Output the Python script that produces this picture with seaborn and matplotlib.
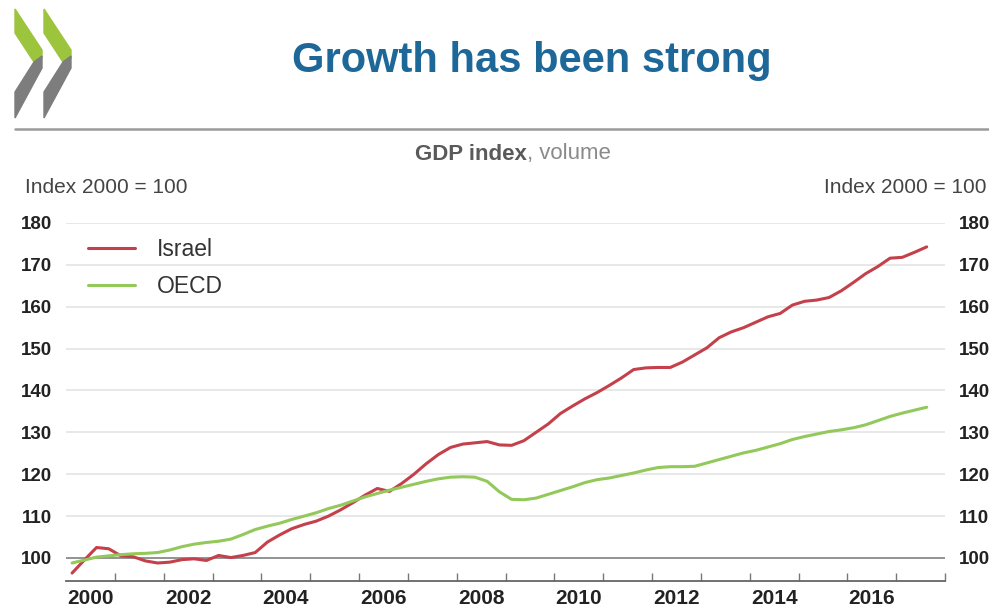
import numpy as np
import pandas as pd
import matplotlib
matplotlib.use("Agg")
import matplotlib.pyplot as plt
from matplotlib import font_manager
from matplotlib.patches import Polygon
import seaborn as sns

# ---------------- data ----------------
quarters = pd.period_range("2000Q1", "2017Q3", freq="Q")

israel = [96.4, 99.5, 102.5, 102.2, 100.5, 100.3, 99.3, 98.8, 99.0, 99.6,
          99.8, 99.4, 100.6, 100.1, 100.6, 101.3, 103.8, 105.5, 107.0, 108.0,
          108.8, 110.0, 111.5, 113.2, 115.0, 116.6, 115.9, 117.8, 120.0, 122.5,
          124.7, 126.4, 127.2, 127.5, 127.8, 127.0, 126.9, 128.0, 130.0, 132.0,
          134.5, 136.3, 138.0, 139.5, 141.2, 143.0, 145.0, 145.4, 145.5, 145.5,
          146.8, 148.5, 150.2, 152.6, 154.0, 155.0, 156.3, 157.6, 158.4, 160.4,
          161.3, 161.6, 162.2, 163.8, 165.8, 167.9, 169.6, 171.6, 171.8, 173.0,
          174.3]

oecd = [98.8, 99.5, 100.2, 100.5, 100.8, 101.0, 101.1, 101.3, 101.9, 102.7,
        103.3, 103.7, 104.0, 104.5, 105.6, 106.8, 107.6, 108.3, 109.2, 110.0,
        110.8, 111.8, 112.6, 113.6, 114.6, 115.4, 116.2, 116.9, 117.6, 118.3,
        118.9, 119.3, 119.4, 119.3, 118.3, 115.8, 114.0, 113.9, 114.3, 115.2,
        116.1, 117.0, 118.0, 118.7, 119.1, 119.7, 120.3, 121.0, 121.6, 121.8,
        121.8, 121.9, 122.7, 123.5, 124.3, 125.1, 125.7, 126.5, 127.3, 128.3,
        129.0, 129.6, 130.2, 130.6, 131.1, 131.8, 132.8, 133.8, 134.6, 135.3,
        136.0]

series_names = ["Israel", "OECD"]
y_ticks = [100, 110, 120, 130, 140, 150, 160, 170, 180]
x_labels = [2000, 2002, 2004, 2006, 2008, 2010, 2012, 2014, 2016]

# ---------------- style ----------------
sns.set_theme(style="white")
names = {f.name for f in font_manager.fontManager.ttflist}
narrow = "Liberation Sans Narrow" if "Liberation Sans Narrow" in names else "Liberation Sans"
plt.rcParams["font.family"] = [narrow, "DejaVu Sans"]

red = "#c4404a"
green = "#93c85a"
blue = "#1d6898"

xpos = quarters.year + (quarters.quarter - 0.5) / 4.0
df = pd.DataFrame({
    "x": np.concatenate([xpos, xpos]),
    "value": israel + oecd,
    "series": [series_names[0]] * len(israel) + [series_names[1]] * len(oecd),
})

fig = plt.figure(figsize=(9.89, 6.10), dpi=100)
ax = fig.add_axes([66 / 989, 1 - 581 / 610, (945 - 66) / 989, (581 - 223) / 610])

sns.lineplot(data=df, x="x", y="value", hue="series",
             palette={"Israel": red, "OECD": green}, linewidth=2.2, ax=ax,
             legend=True, zorder=3)

ax.set_xlim(2000, 2018)
ax.set_ylim(94.5, 180)
ax.set_xlabel("")
ax.set_ylabel("")

# grid
ax.set_yticks(y_ticks)
for v in y_ticks:
    if v == 100:
        ax.axhline(v, color="#8a8a8a", lw=1.3, zorder=1)
    else:
        ax.axhline(v, color="#e4e4e4", lw=1.2, zorder=1)

ax.tick_params(axis="y", length=0, labelleft=True, labelright=True, pad=10,
               labelsize=13.5, labelcolor="#222222")
for lab in ax.get_yticklabels():
    lab.set_fontweight("bold")

# x ticks: major ticks at year boundaries, labels centred in years
ax.set_xticks(list(range(2001, 2019)))
ax.set_xticklabels([])
ax.tick_params(axis="x", which="major", direction="in", length=6, width=1,
               color="#777777", bottom=True)
ax.set_xticks([y + 0.5 for y in x_labels], minor=True)
ax.set_xticklabels([str(y) for y in x_labels], minor=True)
ax.tick_params(axis="x", which="minor", length=0, pad=6, labelsize=15,
               labelcolor="#222222")
for lab in ax.get_xticklabels(minor=True):
    lab.set_fontweight("bold")

for s in ["top", "left", "right"]:
    ax.spines[s].set_visible(False)
ax.spines["bottom"].set_color("#666666")
ax.spines["bottom"].set_linewidth(1.3)

# legend
handles, labels = ax.get_legend_handles_labels()
ax.legend(handles, labels, loc="upper left", bbox_to_anchor=(88 / 989, 1 - 238 / 610),
          bbox_transform=fig.transFigure, frameon=False, fontsize=16.5,
          handlelength=2.05, handletextpad=0.95, labelspacing=0.62,
          borderpad=0, borderaxespad=0, labelcolor="#333333")

# texts
fig.text(0.538, 1 - 61 / 610, "Growth has been strong", ha="center", va="center",
         fontsize=30, fontweight="bold", color=blue, family=["Liberation Sans", "DejaVu Sans"])
fig.add_artist(plt.Line2D([15 / 989, 1.0], [1 - 129 / 610, 1 - 129 / 610],
                          color="#9a9a9a", lw=1.8, transform=fig.transFigure))

t1 = fig.text(415 / 989, 1 - 154 / 610, "GDP index", ha="left", va="center",
              fontsize=16, fontweight="bold", color="#5a5a5a")
fig.canvas.draw()
bb = t1.get_window_extent()
fig.text(bb.x1 / 989, 1 - 154 / 610, ", volume", ha="left", va="center",
         fontsize=16, color="#8a8a8a")

fig.text(25 / 989, 1 - 188 / 610, "Index 2000 = 100", ha="left", va="center",
         fontsize=15, color="#444444")
fig.text(987 / 989, 1 - 188 / 610, "Index 2000 = 100", ha="right", va="center",
         fontsize=15, color="#444444")

# OECD-style logo chevrons
lg = "#9cc43c"
gr = "#7d7d7d"
def px(pts):
    return [(x / 989, 1 - y / 610) for x, y in pts]
for dx in (0, 29):
    fig.add_artist(Polygon(px([(15 + dx, 9), (42 + dx, 50), (42 + dx, 58), (34 + dx, 62), (15 + dx, 33)]),
                           closed=True, color=lg, transform=fig.transFigure))
    fig.add_artist(Polygon(px([(34 + dx, 62), (42 + dx, 56), (42 + dx, 68), (15 + dx, 118), (15 + dx, 92)]),
                           closed=True, color=gr, transform=fig.transFigure))

fig.savefig("out.png", dpi=100)
